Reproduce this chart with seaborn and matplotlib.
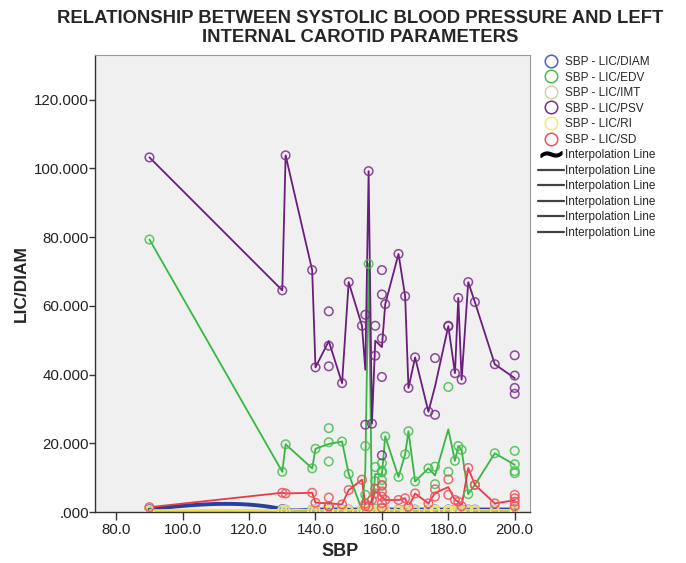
import numpy as np
import pandas as pd
import matplotlib
matplotlib.use("Agg")
import matplotlib.pyplot as plt
from matplotlib.lines import Line2D
import seaborn as sns

# SBP of each patient and the left internal carotid measurements
sbp = [90, 130, 131, 139, 140, 144, 144, 144, 148, 150, 154, 155, 155, 156, 157,
       158, 158, 160, 160, 160, 160, 160, 161, 165, 167, 168, 170, 174, 176, 176,
       180, 180, 182, 183, 184, 186, 188, 194, 200, 200, 200, 200]
psv = [103.2, 64.5, 103.8, 70.4, 42.1, 58.4, 48.4, 42.4, 37.5, 66.9, 54.2, 57.4, 25.4, 99.2, 25.7,
       54.2, 45.5, 70.4, 63.3, 50.5, 39.3, 16.5, 60.5, 75.1, 62.8, 36.1, 45.0, 29.2, 44.8, 28.3,
       54.2, 54.0, 40.4, 62.3, 38.5, 66.9, 61.1, 43.0, 45.6, 39.7, 36.1, 34.4]
edv = [79.3, 11.7, 19.7, 12.7, 18.4, 24.4, 20.3, 14.7, 20.5, 11.1, 0.5, 19.2, 5.0, 72.2, 0.8,
       13.1, 9.0, 14.2, 12.0, 11.5, 9.3, 7.6, 22.0, 10.2, 16.8, 23.5, 8.9, 12.7, 13.2, 8.1,
       36.4, 11.7, 14.9, 19.2, 18.1, 5.2, 7.9, 17.1, 17.8, 13.9, 11.9, 11.3]
sd = [1.4, 5.6, 5.4, 5.6, 2.7, 4.2, 1.7, 1.7, 2.2, 6.4, 9.4, 1.7, 2.4, 1.5, 3.5,
      6.8, 5.4, 7.9, 6.0, 4.5, 2.6, 1.2, 3.5, 3.5, 4.0, 1.5, 5.4, 2.5, 6.6, 4.5,
      9.5, 5.0, 3.5, 3.0, 1.7, 12.8, 7.9, 2.5, 5.0, 4.0, 3.0, 1.7]
diam = [0.85, 0.85, 0.66, 0.68, 0.70, 0.72, 0.70, 0.74, 0.72, 0.71, 0.70, 0.72, 0.69, 0.71, 0.72,
        0.70, 0.74, 0.72, 0.70, 0.71, 0.73, 0.69, 0.71, 0.70, 0.72, 0.71, 0.70, 0.70, 0.72, 0.69,
        0.71, 0.70, 0.70, 0.72, 0.70, 0.71, 0.70, 0.72, 0.70, 0.69, 0.73, 0.71]
imt = [0.10, 0.09, 0.11, 0.10, 0.08, 0.10, 0.12, 0.09, 0.10, 0.11, 0.09, 0.10, 0.08, 0.11, 0.10,
       0.09, 0.12, 0.10, 0.11, 0.09, 0.10, 0.08, 0.10, 0.11, 0.09, 0.10, 0.12, 0.10, 0.09, 0.11,
       0.10, 0.09, 0.10, 0.11, 0.10, 0.09, 0.10, 0.12, 0.10, 0.09, 0.11, 0.10]
ri = [0.55, 0.62, 0.60, 0.65, 0.58, 0.63, 0.60, 0.66, 0.61, 0.59, 0.64, 0.60, 0.62, 0.57, 0.63,
      0.61, 0.66, 0.60, 0.62, 0.64, 0.58, 0.61, 0.63, 0.60, 0.59, 0.65, 0.62, 0.60, 0.61, 0.63,
      0.60, 0.64, 0.62, 0.59, 0.61, 0.63, 0.60, 0.62, 0.61, 0.64, 0.60, 0.63]

labels = ["SBP - LIC/DIAM", "SBP - LIC/EDV", "SBP - LIC/IMT",
          "SBP - LIC/PSV", "SBP - LIC/RI", "SBP - LIC/SD"]
values = [diam, edv, imt, psv, ri, sd]
marker_colors = ["#4a62b8", "#45bf4e", "#d8d2a4", "#7b2c8c", "#f6ee6a", "#f0505a"]
line_colors = ["#2b3f9c", "#38b644", "#d8cf96", "#6a1d7c", "#f2e23c", "#ec3a44"]

df = pd.DataFrame({"SBP": sbp})
for lab, v in zip(labels, values):
    df[lab] = v


def natural_spline(xk, yk, xs):
    n = len(xk)
    h = np.diff(xk)
    A = np.zeros((n, n))
    r = np.zeros(n)
    A[0, 0] = A[-1, -1] = 1
    for i in range(1, n - 1):
        A[i, i - 1] = h[i - 1]
        A[i, i] = 2 * (h[i - 1] + h[i])
        A[i, i + 1] = h[i]
        r[i] = 6 * ((yk[i + 1] - yk[i]) / h[i] - (yk[i] - yk[i - 1]) / h[i - 1])
    M = np.linalg.solve(A, r)
    idx = np.clip(np.searchsorted(xk, xs) - 1, 0, n - 2)
    x0, x1 = xk[idx], xk[idx + 1]
    hh = x1 - x0
    a = (x1 - xs) / hh
    b = (xs - x0) / hh
    return a * yk[idx] + b * yk[idx + 1] + ((a**3 - a) * M[idx] + (b**3 - b) * M[idx + 1]) * hh**2 / 6


sns.set_theme(style="white")
plt.rcParams["font.family"] = ["Liberation Sans", "DejaVu Sans"]

fig = plt.figure(figsize=(6.86, 5.63), dpi=100)
ax = fig.add_axes([95 / 686, 1 - 512 / 563, 435 / 686, 457 / 563])
ax.set_facecolor("#f0f0f0")

for i, lab in enumerate(labels):
    if i == 0:
        # DIAM uses a spline interpolation line
        means = df.groupby("SBP")[lab].mean()
        xk = means.index.values.astype(float)
        xs = np.linspace(xk.min(), xk.max(), 800)
        ys = natural_spline(xk, means.values, xs)
        sns.lineplot(x=xs, y=ys, color=line_colors[i], lw=2.8, ax=ax)
    else:
        sns.lineplot(data=df, x="SBP", y=lab, estimator="mean", errorbar=None,
                     color=line_colors[i], lw=1.3, ax=ax)
    sns.scatterplot(data=df, x="SBP", y=lab, marker="o", s=38, ax=ax, zorder=3)
    coll = ax.collections[-1]
    coll.set_facecolor("none")
    coll.set_edgecolor(marker_colors[i])
    coll.set_linewidth(1.1)
    coll.set_alpha(0.85)

ax.set_xlim(73.6, 204.6)
ax.set_ylim(0, 133)
ax.set_xticks([80, 100, 120, 140, 160, 180, 200])
ax.set_xticklabels(["80.0", "100.0", "120.0", "140.0", "160.0", "180.0", "200.0"])
ax.set_yticks([0, 20, 40, 60, 80, 100, 120])
ax.set_yticklabels([".000", "20.000", "40.000", "60.000", "80.000", "100.000", "120.000"])
ax.tick_params(axis="x", direction="out", length=6, width=1, pad=2,
               color="#333333", labelsize=10.8, labelcolor="#222222", bottom=True)
ax.tick_params(axis="y", direction="out", length=4, width=1, pad=0.5,
               color="#333333", labelsize=10.8, labelcolor="#222222", left=True)

for side in ["top", "right"]:
    ax.spines[side].set_color("#9a9a9a")
    ax.spines[side].set_linewidth(0.8)
for side in ["left", "bottom"]:
    ax.spines[side].set_color("#333333")
    ax.spines[side].set_linewidth(1.0)

ax.set_xlabel("")
ax.set_ylabel("LIC/DIAM", fontsize=12.5, fontweight="bold")
ax.yaxis.set_label_coords((29 - 95) / 435, 0.5)
fig.text(340 / 686, 1 - 552 / 563, "SBP", ha="center", va="center",
         fontsize=13, fontweight="bold")
fig.text(360 / 686, 1 - 28 / 563,
         "RELATIONSHIP BETWEEN SYSTOLIC BLOOD PRESSURE AND LEFT\nINTERNAL CAROTID PARAMETERS",
         ha="center", va="center", fontsize=13.3, fontweight="bold", linespacing=1.2)

handles = [Line2D([], [], ls="none", marker="o", ms=9, mfc="none", mec=c, mew=1.1)
           for c in marker_colors]
handles.append(Line2D([], [], ls="none", marker=r"$\sim$", ms=15, color="black"))
handles += [Line2D([], [], color="#444444", lw=1.6) for _ in range(5)]
leg_labels = labels + ["Interpolation Line"] * 6
fig.legend(handles, leg_labels, loc="upper left", bbox_to_anchor=(538 / 686, 1 - 56 / 563),
           frameon=False, fontsize=8.5, handlelength=2.2, handletextpad=0.1,
           labelspacing=0.3, borderaxespad=0, borderpad=0)

fig.savefig("out.png", dpi=100)
